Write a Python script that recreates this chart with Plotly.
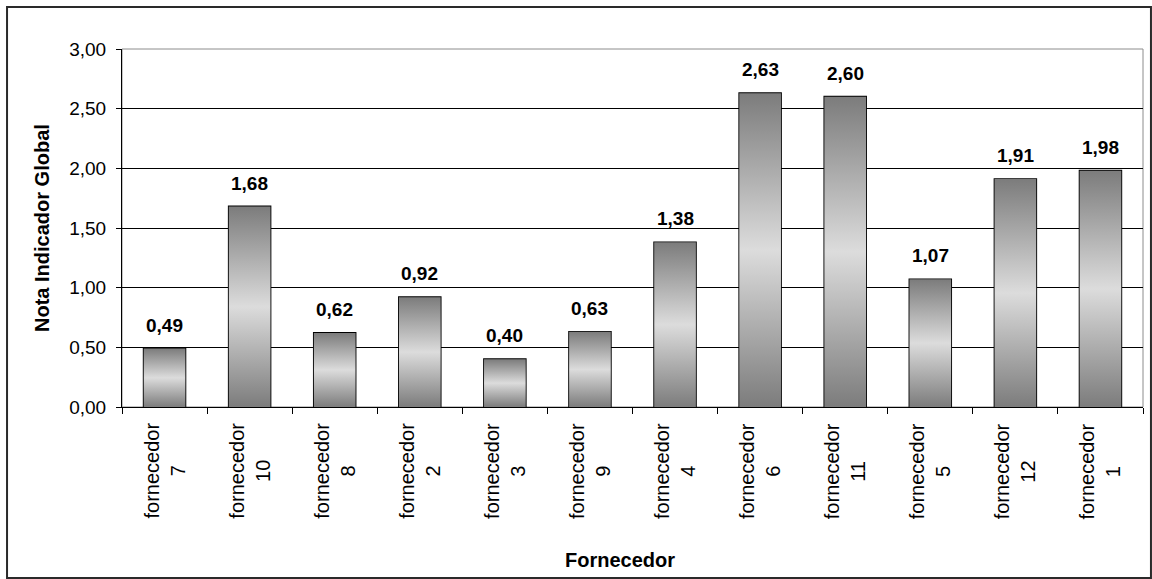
import plotly.graph_objects as go

# Supplier labels and global indicator scores
fornecedores = ["7", "10", "8", "2", "3", "9", "4", "6", "11", "5", "12", "1"]
notas = [0.49, 1.68, 0.62, 0.92, 0.40, 0.63, 1.38, 2.63, 2.60, 1.07, 1.91, 1.98]
y_ticks = [0.0, 0.5, 1.0, 1.5, 2.0, 2.5, 3.0]

BAR_W = 0.49
FONT = "Liberation Sans, Arial, sans-serif"
GRAD = [[0.0, "#7c7c7c"], [0.5, "#dcdcdc"], [1.0, "#7c7c7c"]]


def fmt(v):
    return f"{v:.2f}".replace(".", ",")


fig = go.Figure()
xs = list(range(len(notas)))

# gradient body of each bar (vertical dark-light-dark)
for i, v in zip(xs, notas):
    x0, x1 = i - BAR_W / 2, i + BAR_W / 2
    fig.add_trace(go.Scatter(
        x=[x0, x1, x1, x0, x0], y=[0, 0, v, v, 0],
        mode="lines", fill="toself", line=dict(width=0),
        fillgradient=dict(type="vertical", colorscale=GRAD),
        hoverinfo="skip", showlegend=False,
    ))

# outlined bars carrying the data
fig.add_trace(go.Bar(
    x=xs, y=notas, width=BAR_W,
    marker=dict(color="rgba(0,0,0,0)", line=dict(color="#000000", width=1.8)),
    customdata=[f"fornecedor {f}" for f in fornecedores],
    hovertemplate="%{customdata}: %{y:.2f}<extra></extra>",
    showlegend=False,
))

annotations = []
for i, v in zip(xs, notas):
    annotations.append(dict(
        x=i, y=v, xref="x", yref="y", text=f"<b>{fmt(v)}</b>",
        showarrow=False, yanchor="bottom", yshift=11,
        font=dict(family=FONT, size=19, color="#000000"),
    ))
for i, f in zip(xs, fornecedores):
    annotations.append(dict(
        x=i, y=0, xref="x", yref="paper", text=f"fornecedor<br>{f}",
        showarrow=False, textangle=-90, align="center",
        xanchor="center", yanchor="top", yshift=-14,
        font=dict(family=FONT, size=20, color="#000000"),
    ))

annotations.append(dict(
    x=-0.0784, y=0.5, xref="paper", yref="paper", text="<b>Nota Indicador Global</b>",
    showarrow=False, textangle=-90, xanchor="center", yanchor="middle",
    font=dict(family=FONT, size=20, color="#000000"),
))
annotations.append(dict(
    x=0.4878, y=-0.4274, xref="paper", yref="paper", text="<b>Fornecedor</b>",
    showarrow=False, xanchor="center", yanchor="middle",
    font=dict(family=FONT, size=20, color="#000000"),
))

shapes = [
    # plot-area frame
    dict(type="rect", xref="paper", yref="paper", x0=0, x1=1, y0=0, y1=1,
         line=dict(color="#8c8c8c", width=1), layer="below"),
    # outer chart border
    dict(type="rect", xref="paper", yref="paper", x0=-0.1126, x1=1.0078,
         y0=-0.4777, y1=1.1173, line=dict(color="#2a2a2a", width=2)),
]

fig.update_layout(
    width=1152, height=579,
    margin=dict(l=122, r=9, t=49, b=172),
    paper_bgcolor="#ffffff", plot_bgcolor="#ffffff",
    font=dict(family=FONT, size=19, color="#000000"),
    bargap=0.5,
    annotations=annotations,
    shapes=shapes,
    xaxis=dict(
        range=[-0.5, len(notas) - 0.5],
        tickvals=[k - 0.5 for k in range(len(notas) + 1)],
        showticklabels=False, ticks="outside", ticklen=6, tickcolor="#000000",
        showgrid=False, zeroline=False,
        showline=True, linecolor="#000000", linewidth=1,
    ),
    yaxis=dict(
        range=[0, 3.0],
        tickvals=y_ticks, ticktext=[fmt(t) for t in y_ticks],
        ticks="outside", ticklen=5, tickcolor="#000000", ticklabelstandoff=6,
        showgrid=True, gridcolor="#000000", gridwidth=1,
        zeroline=False, showline=True, linecolor="#000000", linewidth=1,
        tickfont=dict(family=FONT, size=19, color="#000000"),
    ),
)

fig.write_html("out.html")
